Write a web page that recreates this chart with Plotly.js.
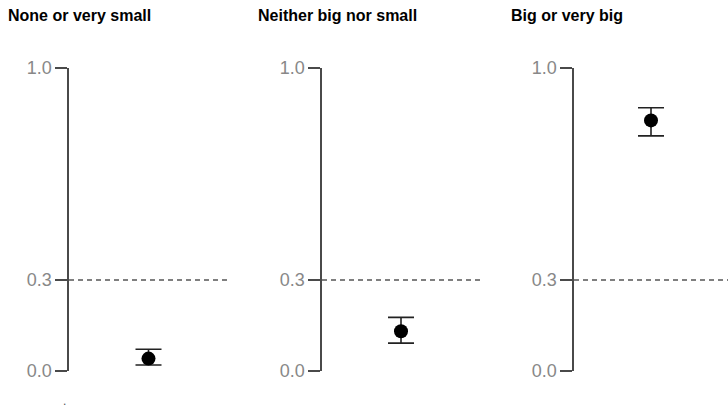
<!DOCTYPE html>
<html>
<head>
<meta charset="utf-8">
<script src="https://cdn.plot.ly/plotly-3.0.1.min.js"></script>
<style>html,body{margin:0;padding:0;background:#fff;}#chart{width:728px;height:413px;}</style>
</head>
<body>
<div id="chart"></div>
<script>
// Data
var categories = ['None or very small', 'Neither big nor small', 'Big or very big'];
var estimates = [0.041, 0.131, 0.827];
var lowerCI = [0.020, 0.092, 0.776];
var upperCI = [0.072, 0.177, 0.869];
var threshold = 0.3;
var tickVals = [0, 0.3, 1];
var tickText = ['0.0', '0.3', '1.0'];

var W = 728, H = 413;
var axisPx = [[69, 228], [322, 480], [574, 728]];
var yTopPx = 68, yBotPx = 371;
var titleLeftPx = [6, 256, 509];

var traces = [];
var layout = {
  width: W, height: H,
  margin: {l: 0, r: 0, t: 0, b: 0},
  paper_bgcolor: '#ffffff', plot_bgcolor: '#ffffff',
  showlegend: false,
  font: {family: 'Arial, "Liberation Sans", sans-serif', color: '#888888'},
  shapes: [], annotations: []
};

categories.forEach(function (cat, i) {
  var n = i + 1;
  var xa = 'xaxis' + (n === 1 ? '' : n), ya = 'yaxis' + (n === 1 ? '' : n);
  var xr = 'x' + (n === 1 ? '' : n), yr = 'y' + (n === 1 ? '' : n);
  traces.push({
    type: 'scatter', mode: 'markers',
    x: [0.5], y: [estimates[i]],
    xaxis: xr, yaxis: yr,
    marker: {color: '#000000', size: 14},
    error_y: {
      type: 'data', symmetric: false,
      array: [upperCI[i] - estimates[i]],
      arrayminus: [estimates[i] - lowerCI[i]],
      color: '#222222', thickness: 1.6, width: 13
    },
    hoverinfo: 'skip'
  });
  layout[xa] = {
    domain: [axisPx[i][0] / W, axisPx[i][1] / W],
    range: [0, 1], visible: false, anchor: yr, fixedrange: true
  };
  layout[ya] = {
    domain: [(H - yBotPx) / H, (H - yTopPx) / H],
    range: [0, 1], anchor: xr,
    showline: true, linecolor: '#4a4a4a', linewidth: 1.6,
    showgrid: false, zeroline: false,
    ticks: 'outside', ticklen: 12, tickwidth: 1.5, tickcolor: '#4a4a4a',
    tickvals: tickVals, ticktext: tickText,
    tickfont: {size: 18, color: '#888888', family: 'Arial, "Liberation Sans", sans-serif'},
    fixedrange: true
  };
  layout.shapes.push({
    type: 'line', xref: xr + ' domain', yref: yr,
    x0: 0, x1: 1, y0: threshold, y1: threshold,
    line: {color: '#555555', width: 1.5, dash: '5px,4px'},
    layer: 'below'
  });
  layout.annotations.push({
    text: '<b>' + cat + '</b>', xref: 'paper', yref: 'paper',
    x: titleLeftPx[i] / W, y: (H - 16) / H,
    xanchor: 'left', yanchor: 'middle', showarrow: false,
    font: {size: 16, color: '#000000', family: 'Arial, "Liberation Sans", sans-serif'}
  });
});

layout.annotations.push({
  text: '.', xref: 'paper', yref: 'paper', x: 64 / W, y: (H - 401) / H,
  xanchor: 'center', yanchor: 'middle', showarrow: false,
  font: {size: 12, color: '#555555'}
});

Plotly.newPlot('chart', traces, layout, {displayModeBar: false, staticPlot: true});
</script>
</body>
</html>
